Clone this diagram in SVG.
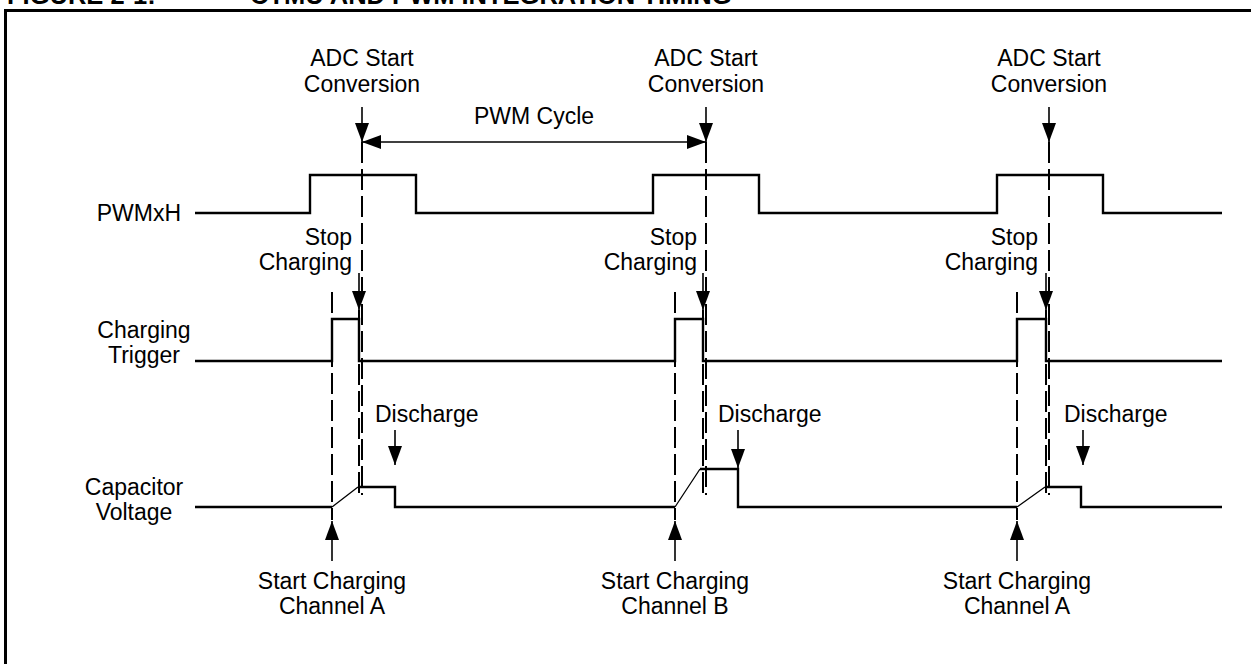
<svg xmlns="http://www.w3.org/2000/svg" width="1251" height="664" viewBox="0 0 1251 664">
<style>
text{font-family:"Liberation Sans",Arial,sans-serif;font-size:23px;fill:#000}
.t{font-weight:bold;font-size:25.5px}
.m{text-anchor:middle}
.e{text-anchor:end}
.w{fill:none;stroke:#000;stroke-width:2.4}
.r{fill:none;stroke:#000;stroke-width:1.3}
.d{fill:none;stroke:#000;stroke-width:2;stroke-dasharray:21 6}
.a{fill:none;stroke:#000;stroke-width:1.6;marker-end:url(#ah)}
.b{fill:none;stroke:#000;stroke-width:1.6;marker-end:url(#ah);marker-start:url(#ah)}
</style>
<defs>
<marker id="ah" markerUnits="userSpaceOnUse" markerWidth="20" markerHeight="14" refX="19" refY="7" orient="auto-start-reverse">
<path d="M0,0 L19,7 L0,14 z" fill="#000"/>
</marker>
</defs>
<rect width="1251" height="664" fill="#fff"/>
<g id="title">
<text class="t" x="7" y="3.5">FIGURE 2-1:</text>
<text class="t" x="250" y="3.5">CTMU AND PWM INTEGRATION TIMING</text>
</g>
<path id="frame" d="M5.5,664 V10.5 H1251" fill="none" stroke="#000" stroke-width="3"/>
<g id="signal-labels">
<text class="e" x="181" y="221">PWMxH</text>
<text class="m" x="144" y="338">Charging</text>
<text class="m" x="144" y="363">Trigger</text>
<text class="m" x="134" y="495">Capacitor</text>
<text class="m" x="134" y="520">Voltage</text>
</g>
<g id="waveforms">
<path id="pwmxh" class="w" d="M195,213 H310 V175 H416 V213 H653 V175 H759 V213 H997 V175 H1103 V213 H1222"/>
<path id="trigger" class="w" d="M195,361 H332 V319 H359 V361 H675 V319 H703 V361 H1017 V319 H1046 V361 H1222"/>
<path id="cap-low" class="w" d="M195,507 H332 M358,487 H395 V507 H675 M700,469 H738 V507 H1017 M1045,487 H1081 V507 H1222"/>
<path id="cap-ramps" class="r" d="M332,507 L358,487 M675,507 L700,469 M1017,507 L1045,487"/>
</g>
<g id="guides">
<path class="d" d="M362,142 V495 M706,142 V495 M1049,142 V495"/>
<path class="d" d="M359,310 V498 M703,310 V498 M1046,310 V498"/>
<path class="d" d="M332,292 V520 M675,292 V520 M1017,292 V520"/>
</g>
<g id="adc-1"><text class="m" x="362" y="66">ADC Start</text><text class="m" x="362" y="92">Conversion</text></g>
<g id="adc-2"><text class="m" x="706" y="66">ADC Start</text><text class="m" x="706" y="92">Conversion</text></g>
<g id="adc-3"><text class="m" x="1049" y="66">ADC Start</text><text class="m" x="1049" y="92">Conversion</text></g>
<g id="pwm-cycle"><text class="m" x="534" y="124">PWM Cycle</text></g>
<g id="stop-1"><text class="e" x="352" y="245">Stop</text><text class="e" x="352" y="270">Charging</text></g>
<g id="stop-2"><text class="e" x="697" y="245">Stop</text><text class="e" x="697" y="270">Charging</text></g>
<g id="stop-3"><text class="e" x="1038" y="245">Stop</text><text class="e" x="1038" y="270">Charging</text></g>
<g id="discharge-1"><text x="375" y="422">Discharge</text></g>
<g id="discharge-2"><text x="718" y="422">Discharge</text></g>
<g id="discharge-3"><text x="1064" y="422">Discharge</text></g>
<g id="start-1"><text class="m" x="332" y="589">Start Charging</text><text class="m" x="332" y="614">Channel A</text></g>
<g id="start-2"><text class="m" x="675" y="589">Start Charging</text><text class="m" x="675" y="614">Channel B</text></g>
<g id="start-3"><text class="m" x="1017" y="589">Start Charging</text><text class="m" x="1017" y="614">Channel A</text></g>
<g id="connectors">
<path class="a" d="M362,107 V142"/>
<path class="a" d="M706,107 V142"/>
<path class="a" d="M1049,107 V142"/>
<path class="b" d="M362,142 H706"/>
<path class="a" d="M359,273 V310"/>
<path class="a" d="M703,273 V310"/>
<path class="a" d="M1046,273 V310"/>
<path class="a" d="M395,430 V465"/>
<path class="a" d="M738,430 V468"/>
<path class="a" d="M1083,430 V465"/>
<path class="a" d="M332,561 V521"/>
<path class="a" d="M675,561 V521"/>
<path class="a" d="M1017,561 V521"/>
</g>
</svg>
